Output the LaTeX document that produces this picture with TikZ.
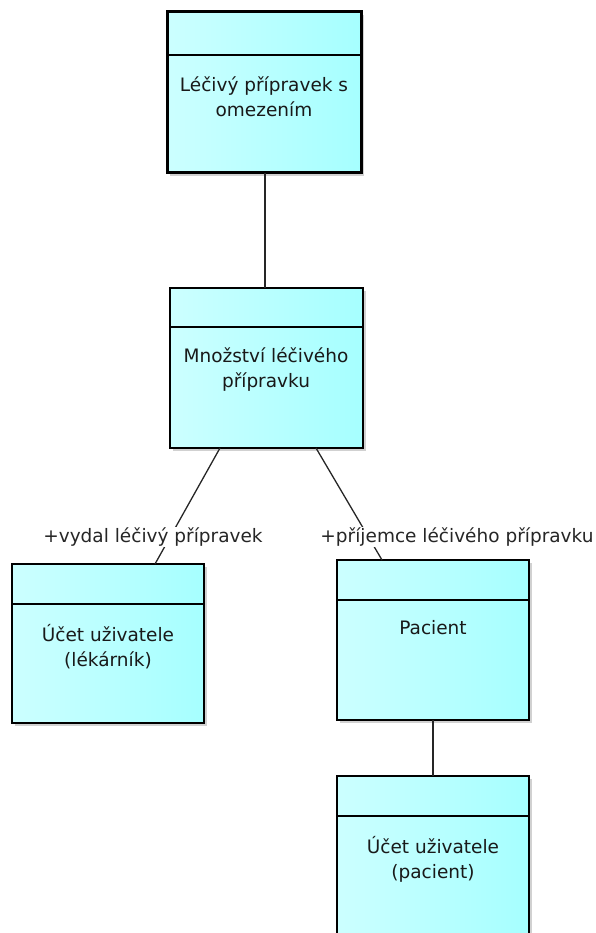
\documentclass[tikz,border=0pt]{standalone}
\usepackage{fontspec}
\setmainfont{DejaVu Sans}
\begin{document}
\begin{tikzpicture}[x=1pt,y=-1pt,
  classbox/.style={draw=black, line width=1.3pt, left color=cyan!20, right color=cyan!35,
    shading angle=90, inner sep=0pt, outer sep=0pt, anchor=north west},
  boldbox/.style={classbox, line width=3pt},
  shadowbox/.style={fill=black!18, draw=none, inner sep=0pt, anchor=north west},
  classtext/.style={font=\fontsize{18.5}{25}\selectfont, align=center, text=black!90},
  rolelabel/.style={font=\fontsize{18.5}{20}\selectfont, fill=white, inner sep=1pt, text=black!85},
  assoc/.style={draw=black!85, line width=1.3pt}]
\useasboundingbox (0,0) rectangle (595,933);
% shadows
\node[shadowbox, minimum width=194, minimum height=161] (s1) at (170,15) {};
\node[shadowbox, minimum width=193, minimum height=160] (s2) at (173,291) {};
\node[shadowbox, minimum width=192, minimum height=159] (s3) at (15,567) {};
\node[shadowbox, minimum width=192, minimum height=160] (s4) at (340,563) {};
\node[shadowbox, minimum width=192, minimum height=170] (s5) at (340,779) {};
% class boxes
\node[boldbox, minimum width=194, minimum height=161] (lp) at (167,12) {};
\node[classbox, minimum width=193, minimum height=160] (mn) at (170,288) {};
\node[classbox, minimum width=192, minimum height=159] (ul) at (12,564) {};
\node[classbox, minimum width=192, minimum height=160] (pa) at (337,560) {};
\node[classbox, minimum width=192, minimum height=170] (up) at (337,776) {};
% compartment dividers
\draw[line width=1.3pt] ([yshift=-43pt]lp.north west) -- ([yshift=-43pt]lp.north east);
\draw[line width=1.3pt] ([yshift=-39pt]mn.north west) -- ([yshift=-39pt]mn.north east);
\draw[line width=1.3pt] ([yshift=-40pt]ul.north west) -- ([yshift=-40pt]ul.north east);
\draw[line width=1.3pt] ([yshift=-40pt]pa.north west) -- ([yshift=-40pt]pa.north east);
\draw[line width=1.3pt] ([yshift=-40pt]up.north west) -- ([yshift=-40pt]up.north east);
% class names
\node[classtext] (tlp) at (264,97) {Léčivý přípravek s\\omezením};
\node[classtext] (tmn) at (266,370) {Množství léčivého\\přípravku};
\node[classtext] (tul) at (108,647) {Účet uživatele\\(lékárník)};
\node[classtext] (tpa) at (433,628) {Pacient};
\node[classtext] (tup) at (433,859) {Účet uživatele\\(pacient)};
% association end points
\coordinate (lpb) at (265,173);
\coordinate (mnt) at (265,288);
\coordinate (mnl) at (220,448);
\coordinate (mnr) at (316,448);
\coordinate (ult) at (155,564);
\coordinate (pat) at (382,560);
\coordinate (pab) at (433,720);
\coordinate (upt) at (433,776);
% associations
\draw[assoc] (lpb) -- (mnt);
\draw[assoc] (mnl) -- (ult);
\draw[assoc] (mnr) -- (pat);
\draw[assoc] (pab) -- (upt);
% role names
\node[rolelabel] (rvy) at (153,537) {+vydal léčivý přípravek};
\node[rolelabel] (rpr) at (457,537) {+příjemce léčivého přípravku};
\end{tikzpicture}
\end{document}
